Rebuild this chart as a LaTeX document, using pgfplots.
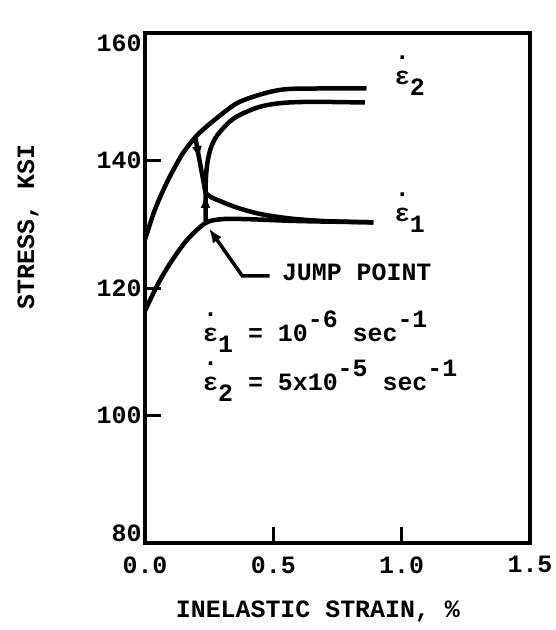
\documentclass[border=0pt]{standalone}
\usepackage{fontspec}
\usepackage{pgfplots}
\pgfplotsset{compat=1.18}
\usetikzlibrary{arrows.meta}
\newfontfamily\tw{Liberation Mono}
\newcommand\tf{\tw\bfseries\fontsize{25}{28}\selectfont}
% epsilon with a dot over it, typewriter style
\newcommand\ed{\makebox[0pt][l]{\raisebox{1.0em}[0pt][0pt]{.}}ε}
\newcommand\dn[1]{\raisebox{-0.45em}[0pt][0pt]{#1}}
\newcommand\up[1]{\raisebox{0.55em}[0pt][0pt]{#1}}
\begin{document}
\begin{tikzpicture}
\begin{axis}[
  scale only axis, width=385bp, height=510bp,
  xmin=0, xmax=1.5, ymin=80, ymax=160,
  axis line style={line width=3.5bp},
  xtick={0,0.5,1,1.5}, xticklabels={0.0,0.5,1.0,1.5},
  ytick={100,120,140},
  xtick pos=bottom, ytick pos=left,
  tick align=inside, major tick length=16bp,
  tick style={line width=3bp,black},
  /pgf/number format/assume math mode=true,
  ticklabel style={font=\tf},
  xticklabel style={yshift=-10bp},
  label style={font=\tf},
  xlabel={INELASTIC STRAIN, \%},
  ylabel={STRESS, KSI},
  xlabel style={at={(axis description cs:0.449,-0.135)},anchor=center},
  ylabel style={at={(axis description cs:-0.304,0.62)},anchor=center},
  no markers,
  every axis plot/.append style={line width=4.5bp,black},
  clip=false,
]
\coordinate (O) at (rel axis cs:0,0);
% eps2, first loading
\addplot[smooth, tension=0.5] coordinates {
(0,127.6) (0.036,132.0) (0.075,135.7) (0.114,138.8) (0.152,141.4) (0.204,144.0)
(0.269,146.3) (0.359,149.0) (0.462,150.5) (0.553,151.2) (0.7,151.3) (0.863,151.3)
};
% eps2, after the jump up
\addplot[smooth, tension=0.5] coordinates {
(0.236,130.5) (0.236,134.0) (0.237,137.0) (0.243,139.6) (0.256,141.9)
(0.282,144.0) (0.346,146.6) (0.437,148.3) (0.527,149.0) (0.65,149.2) (0.857,149.1)
};
\addplot[line width=2bp, -{Latex[length=13bp,width=10bp]}] coordinates {(0.236,130.8) (0.236,134.6)};
% eps1, after the jump down
\addplot coordinates {(0.196,143.6) (0.236,134.9)};
\addplot[line width=2bp, -{Latex[length=13bp,width=10bp]}] coordinates {(0.198,143.1) (0.212,140.2)};
\addplot[smooth, tension=0.5] coordinates {
(0.236,134.9) (0.26,134.2) (0.295,133.6) (0.359,132.6) (0.45,131.6)
(0.566,130.9) (0.7,130.5) (0.89,130.3)
};
% eps1, first loading
\addplot[smooth, tension=0.5] coordinates {
(0,116.4) (0.05,120.6) (0.1,124.0) (0.165,127.6) (0.236,130.2)
(0.3,130.8) (0.4,130.8) (0.6,130.5) (0.89,130.3)
};
% jump point leader
\addplot[line width=3.5bp, -{Latex[length=14bp,width=11bp]}] coordinates {
(0.486,121.9) (0.379,121.9) (0.250,129.3)
};
\node[anchor=east, font=\tf] at (axis cs:0,81.6) {80};
\node[anchor=east, font=\tf] at (axis cs:0,158.4) {160};
\node[anchor=base west, inner sep=0, font=\tf] at (axis cs:0.533,121.1) {JUMP POINT};
\node[anchor=base west, inner sep=0, font=\tf] at (axis cs:0.973,152.0) {\ed\dn{2}};
\node[anchor=base west, inner sep=0, font=\tf] at (axis cs:0.973,130.5) {\ed\dn{1}};
% the two rates, one block
\node[anchor=north west, inner sep=0, align=left,
      font=\tw\bfseries\fontsize{25}{49}\selectfont] at (axis cs:0.226,114.8)
  {\rule{0pt}{20bp}\ed\dn{1} = 10\up{-6} sec\up{-1}\\
   \ed\dn{2} = 5x10\up{-5} sec\up{-1}};
\end{axis}
\pgfresetboundingbox
\path ([shift={(-145bp,-87bp)}]O) rectangle +(556bp,630bp);
\end{tikzpicture}
\end{document}
